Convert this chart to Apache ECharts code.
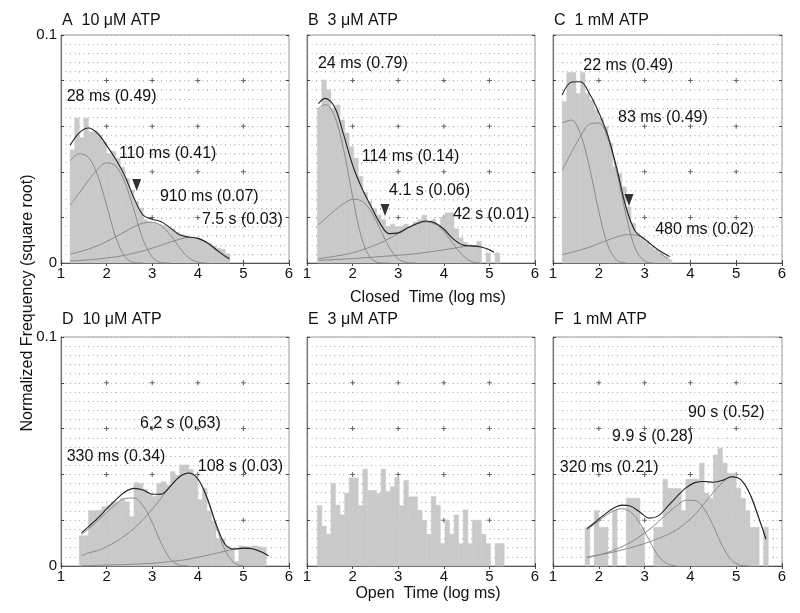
<!DOCTYPE html>
<html>
<head>
<meta charset="utf-8">
<script src="https://cdn.jsdelivr.net/npm/echarts@6/dist/echarts.min.js"></script>
<style>
html, body { margin: 0; padding: 0; background: #fff; }
#chart { width: 800px; height: 613px; }
</style>
</head>
<body>
<div id="chart"></div>
<script>
const FONT = "'Liberation Sans', Arial, Helvetica, sans-serif";

// texts
const panelTitles = ['A  10 \u03bcM ATP', 'B  3 \u03bcM ATP', 'C  1 mM ATP', 'D  10 \u03bcM ATP', 'E  3 \u03bcM ATP', 'F  1 mM ATP'];
const closedLabel = 'Closed  Time (log ms)';
const openLabel = 'Open  Time (log ms)';
const yLabel = 'Normalized Frequency (square root)';
const xMajor = [2, 3, 4, 5];
const yMajor = [0.02, 0.04, 0.06, 0.08];

// histograms: bins of 0.1 log ms, first left edge per panel
const binWidth = 0.1;
const histStart = [1.2, 1.225, 1.2, 1.4, 1.225, 1.7];
const histA = [.0496, .0635, .055, .0635, .0575, .058, .056, .0532, .048, .049, .046, .042, .037, .032, .027, .024, .019, .018, .0175, .017,
  .0165, .0155, .015, .0135, .0125, .0115, .0112, .011, .0105, .0095, .0085, .0075, .0065, .006, .004];
const histB = [.0678, .0803, .0759, .068, .0693, .0627, .057, .051, .046, .038, .031, .027, .024, .021, .019, .016, .017, .016, .016, .017,
  .016, .018, .019, .021, .018, .019, .017, .02, .022, .022, .015, .011, .009, .008, .0075, .0095, 0, .0044, 0, .0044];
const histC = [.0708, .0835, .0835, .0744, .0835, .0744, .0714, .0671, .0635, .0598, .0525, .0422, .0393, .0334, .0247, .0174, .013, .0108,
  .0093, .0072, .0057, .0042, .0028, .0013];
const histD = [.0132, .0132, .0242, .0242, .0244, .0259, .0265, .028, .028, .0295, .028, .0215, .0364, .036, .0335, .031, .0303, .036, .0368,
  .0354, .0412, .0397, .0441, .0441, .0422, .039, .029, .034, .024, .0195, .0121, .0118, .0088, .0077, .002, .0088, .0085, .0085, .0088, .0085, .008];
const histE = [.0264, .0174, .0139, .0361, .0266, .0223, .0318, .0385, .0385, .0264, .0423, .033, .033, .0317, .0423, .0326, .0347, .0387,
  .0264, .0374, .0302, .0302, .0244, .02, .0139, .0304, .0266, .0098, .02, .0139, .0223, .0098, .0245, .0098, .02, .02, .0139, .0098, 0, .0098, .0098];
const histF = [.0167, 0, .0242, .0169, .0169, 0, .0242, 0, 0, .0296, .0296, .0296, .0169, 0, 0, .0169, .0169, .0379, .0339, .0339, .0339,
  .0242, .0379, .0379, .0379, .0449, .0318, .0296, .0485, .0514, .0449, .0405, .0405, .0339, .0296, .0242, .0169, .0169, 0, .0169];

// fitted curves (x in log ms)
const fitXA = [1.2, 1.4, 1.6, 1.8, 2.0, 2.2, 2.4, 2.6, 2.8, 3.0, 3.2, 3.4, 3.6, 3.8, 4.0, 4.2, 4.4, 4.6, 4.7];
const fitA = [.0517, .0571, .0592, .0569, .0516, .0455, .0382, .0285, .021, .0192, .0181, .0153, .0124, .0114, .0108, .009, .0059, .003, .002];
const compA = [
  [.0448, .0479, .0464, .0386, .0253, .0113, .0028, .0002, 0],
  [.0254, .0307, .0362, .0411, .0439, .0425, .0354, .0232, .0103, .0026, .0002, 0],
  [.0039, .0049, .0061, .0076, .0094, .0115, .0137, .0159, .0175, .0179, .0163, .0122, .0067, .0023, .0004, 0],
  [.0009, .0011, .0014, .0017, .0022, .0027, .0034, .0043, .0053, .0065, .0078, .0092, .0104, .0112, .0108, .009, .0059, .0026, .0014]
];
const fitXB = [1.25, 1.4, 1.6, 1.8, 2.0, 2.2, 2.4, 2.6, 2.8, 3.0, 3.2, 3.4, 3.6, 3.8, 4.0, 4.2, 4.4, 4.6, 4.8, 5.0, 5.1];
const fitB = [.0699, .0722, .0686, .0565, .043, .033, .025, .0175, .0129, .0132, .0153, .0172, .0184, .0177, .0149, .0107, .008, .0075, .0071, .0058, .0047];
const compB = [
  [.0678, .0695, .0646, .050, .0292, .0108, .0021, .0001, 0],
  [.0168, .0194, .0229, .026, .0279, .0272, .0228, .0151, .007, .0018, .0002, 0],
  [.0019, .0023, .0029, .0036, .0045, .0057, .0071, .0087, .0107, .0129, .0151, .017, .018, .0171, .0139, .0086, .0036, .0007, 0],
  [.0012, .0013, .0015, .0017, .0019, .0022, .0025, .0028, .0031, .0034, .0037, .0041, .0046, .0052, .0058, .0064, .0071, .0075, .0071, .0058, .0047]
];
const fitXC = [1.2, 1.4, 1.6, 1.8, 2.0, 2.2, 2.4, 2.6, 2.8, 3.0, 3.2, 3.4, 3.55];
const fitC = [.0737, .0793, .0795, .0741, .066, .0558, .0409, .024, .0138, .0105, .0072, .0045, .0028];
const compC = [
  [.0614, .0627, .0565, .0416, .0227, .0076, .0011, 0],
  [.0406, .0484, .0556, .0609, .0614, .0544, .0392, .0205, .0062, .0008, 0],
  [.0037, .0046, .0057, .007, .0085, .0101, .0115, .0124, .0123, .0105, .0072, .0034, .0015]
];
const fitXD = [1.45, 1.6, 1.8, 2.0, 2.2, 2.4, 2.6, 2.8, 3.0, 3.2, 3.4, 3.6, 3.8, 4.0, 4.2, 4.4, 4.6, 4.8, 5.0, 5.2, 5.4, 5.55];
const fitD = [.0145, .0171, .0208, .0249, .0289, .0323, .0339, .0332, .0313, .0314, .0349, .039, .0406, .0381, .03, .0184, .0094, .0074, .0078, .0075, .0061, .0045];
const compD = [
  [.0138, .0161, .0197, .0234, .0269, .0295, .0297, .0263, .019, .0099, .003, .0004, 0],
  [.0045, .0057, .0067, .0084, .0106, .0132, .0164, .0203, .0248, .0298, .0347, .0389, .0405, .0379, .0296, .0176, .0068, .0013, 0],
  [.0002, .0002, .0003, .0004, .0005, .0006, .0008, .001, .0012, .0015, .002, .0024, .003, .0038, .0046, .0055, .0065, .0073, .0078, .0075, .0061, .0045]
];
const fitXF = [1.74, 1.9, 2.1, 2.3, 2.5, 2.7, 2.9, 3.1, 3.3, 3.5, 3.7, 3.9, 4.1, 4.3, 4.5, 4.7, 4.9, 5.1, 5.3, 5.5, 5.65];
const fitF = [.0163, .0188, .0221, .025, .0266, .0261, .0235, .0209, .0219, .0259, .0302, .0341, .0364, .0369, .0366, .0374, .039, .0377, .0314, .0206, .0117];
const compF = [
  [.0158, .0182, .0213, .0239, .025, .0235, .0186, .0112, .0044, .0009, 0],
  [.0035, .0043, .0053, .0067, .0084, .0104, .013, .0159, .0193, .023, .0263, .0287, .0286, .0249, .0175, .0087, .0025, .0003, 0],
  [.004, .0045, .0052, .006, .007, .008, .0092, .0105, .012, .0137, .0158, .0188, .0225, .0272, .0321, .0364, .0389, .0377, .0314, .0206, .0117]
];

// annotations (text, anchored at left edge in data coords)
const notesA = ['28 ms (0.49)', '110 ms (0.41)', '910 ms (0.07)', '7.5 s (0.03)'];
const notesAX = [1.125, 2.27, 3.17, 4.09];
const notesAY = [.0728, .0478, .029, .0189];
const notesB = ['24 ms (0.79)', '114 ms (0.14)', '4.1 s (0.06)', '42 s (0.01)'];
const notesBX = [1.24, 2.2, 2.8, 4.2];
const notesBY = [.0873, .0465, .0316, .0211];
const notesC = ['22 ms (0.49)', '83 ms (0.49)', '480 ms (0.02)'];
const notesCX = [1.66, 2.42, 3.23];
const notesCY = [.0868, .0636, .0145];
const notesD = ['6,2 s (0,63)', '330 ms (0.34)', '108 s (0.03)'];
const notesDX = [2.73, 1.125, 4.0];
const notesDY = [.0624, .0476, .0432];
const notesF = ['90 s (0.52)', '9.9 s (0.28)', '320 ms (0.21)'];
const notesFX = [3.95, 2.29, 1.15];
const notesFY = [.0668, .0563, .0428];

// arrowheads in panels A, B, C
const arrowX = [2.66, 2.71, 2.66];
const arrowY = [.0342, .0232, .0276];

// layout
const gridLefts = [61, 307, 553];
const gridWidths = [228, 228, 229];
const gridTops = [35, 337];
const gridHeights = [228, 229];

const hists = [histA, histB, histC, histD, histE, histF];
const fits = [
  { x: fitXA, total: fitA, comps: compA },
  { x: fitXB, total: fitB, comps: compB },
  { x: fitXC, total: fitC, comps: compC },
  { x: fitXD, total: fitD, comps: compD },
  null,
  { x: fitXF, total: fitF, comps: compF }
];
const notes = [
  { t: notesA, x: notesAX, y: notesAY },
  { t: notesB, x: notesBX, y: notesBY },
  { t: notesC, x: notesCX, y: notesCY },
  { t: notesD, x: notesDX, y: notesDY },
  null,
  { t: notesF, x: notesFX, y: notesFY }
];

// dotted rows: one dot per 0.1 log unit along x
const rowDots = { color: '#b4b4b4', width: 1, type: [1, 3.56] };
const colDots = { color: '#b4b4b4', width: 1, type: [1, 8.15] };
const grids = [], xAxes = [], yAxes = [], titles = [];

for (let i = 0; i < 6; i++) {
  const r = Math.floor(i / 3), c = i % 3;
  grids.push({ left: gridLefts[c], top: gridTops[r], width: gridWidths[c], height: gridHeights[r],
    show: true, borderColor: '#999', borderWidth: 1, backgroundColor: 'transparent' });
  titles.push({ text: panelTitles[i], left: gridLefts[c] + 1, top: r === 0 ? 13 : 312, padding: 0,
    textStyle: { fontSize: 16, fontWeight: 'normal', color: '#111', fontFamily: FONT } });
}
for (let i = 0; i < 6; i++) {
  xAxes.push({ gridIndex: i, type: 'value', min: 1, max: 6, interval: 1, position: 'bottom',
    axisLine: { show: true, onZero: false, lineStyle: { color: '#555', width: 1.2 } },
    axisTick: { show: true, inside: true, length: 3, lineStyle: { color: '#444' } },
    axisLabel: { color: '#111', fontSize: 15, fontFamily: FONT, margin: 3 },
    splitLine: { show: true, lineStyle: colDots },
    minorTick: { show: false, splitNumber: 5 },
    minorSplitLine: { show: true, lineStyle: colDots } });
  yAxes.push({ gridIndex: i, type: 'value', min: 0, max: 0.1, interval: 0.02, position: 'left',
    axisLine: { show: true, onZero: false, lineStyle: { color: '#777', width: 1.2 } },
    axisTick: { show: true, inside: true, length: 3, lineStyle: { color: '#444' } },
    axisLabel: { show: i % 3 === 0, color: '#111', fontSize: 15, fontFamily: FONT, margin: 4,
      formatter: v => (v === 0 ? '0' : (Math.abs(v - 0.1) < 1e-9 ? '0.1' : '')) },
    splitLine: { show: true, lineStyle: rowDots },
    minorTick: { show: false, splitNumber: 5 },
    minorSplitLine: { show: true, lineStyle: rowDots } });
}
for (let i = 0; i < 6; i++) {
  xAxes.push({ gridIndex: i, type: 'value', min: 1, max: 6, interval: 1, position: 'top',
    axisLine: { show: false }, axisTick: { show: true, inside: true, length: 3, lineStyle: { color: '#444' } },
    axisLabel: { show: false }, splitLine: { show: false } });
  yAxes.push({ gridIndex: i, type: 'value', min: 0, max: 0.1, interval: 0.02, position: 'right',
    axisLine: { show: false }, axisTick: { show: true, inside: true, length: 3, lineStyle: { color: '#444' } },
    axisLabel: { show: false }, splitLine: { show: false } });
}

const series = [];
const plus = 'path://M2,0H3V2H5V3H3V5H2V3H0V2H2Z';
for (let i = 0; i < 6; i++) {
  const crosses = [];
  xMajor.forEach(x => yMajor.forEach(y => crosses.push([x, y])));
  series.push({ type: 'scatter', xAxisIndex: i, yAxisIndex: i, silent: true, z: 1,
    symbol: plus, symbolSize: 5, itemStyle: { color: '#444' }, data: crosses });

  const bins = [];
  hists[i].forEach((v, k) => {
    if (v > 0) bins.push([histStart[i] + k * binWidth, histStart[i] + (k + 1) * binWidth, v]);
  });
  series.push({ type: 'custom', xAxisIndex: i, yAxisIndex: i, silent: true, z: 2, data: bins,
    encode: { x: [0, 1], y: 2 },
    renderItem: (params, api) => {
      const p0 = api.coord([api.value(0), api.value(2)]);
      const p1 = api.coord([api.value(1), 0]);
      return { type: 'rect', shape: { x: p0[0], y: p0[1], width: p1[0] - p0[0], height: p1[1] - p0[1] },
        style: { fill: '#c9c9c9', stroke: '#c9c9c9', lineWidth: 0.5 } };
    } });

  const f = fits[i];
  if (f) {
    const line = (ys, color, w) => ({ type: 'line', xAxisIndex: i, yAxisIndex: i, silent: true, z: 3,
      showSymbol: false, smooth: 0.35, lineStyle: { color: color, width: w },
      data: ys.map((y, k) => [f.x[k], y]) });
    f.comps.forEach(cmp => series.push(line(cmp, '#8a8a8a', 1)));
    series.push(line(f.total, '#222', 1.1));
  }

  const n = notes[i];
  if (n) {
    series.push({ type: 'custom', xAxisIndex: i, yAxisIndex: i, silent: true, z: 5, clip: false,
      data: n.t.map((t, k) => [n.x[k], n.y[k], t]),
      encode: { x: 0, y: 1 },
      renderItem: (params, api) => {
        const p = api.coord([api.value(0), api.value(1)]);
        return { type: 'text', x: p[0], y: p[1],
          style: { text: n.t[params.dataIndex], fill: '#111', font: '16px ' + FONT,
            align: 'left', verticalAlign: 'middle' } };
      } });
  }
  if (i < 3) {
    series.push({ type: 'scatter', xAxisIndex: i, yAxisIndex: i, silent: true, z: 6,
      symbol: 'triangle', symbolRotate: 180, symbolSize: [9, 12], itemStyle: { color: '#000' },
      data: [[arrowX[i], arrowY[i]]] });
  }
}

const chart = echarts.init(document.getElementById('chart'), null, { renderer: 'canvas' });
chart.setOption({
  animation: false,
  backgroundColor: '#fff',
  title: titles,
  grid: grids,
  xAxis: xAxes,
  yAxis: yAxes,
  series: series,
  graphic: [
    { type: 'text', x: 28, y: 303, rotation: Math.PI / 2,
      style: { text: yLabel, font: '16px ' + FONT, fill: '#111', align: 'center', verticalAlign: 'middle' } },
    { type: 'text', x: 428, y: 298,
      style: { text: closedLabel, font: '16px ' + FONT, fill: '#111', align: 'center', verticalAlign: 'middle' } },
    { type: 'text', x: 428, y: 594,
      style: { text: openLabel, font: '16px ' + FONT, fill: '#111', align: 'center', verticalAlign: 'middle' } }
  ]
});
</script>
</body>
</html>
